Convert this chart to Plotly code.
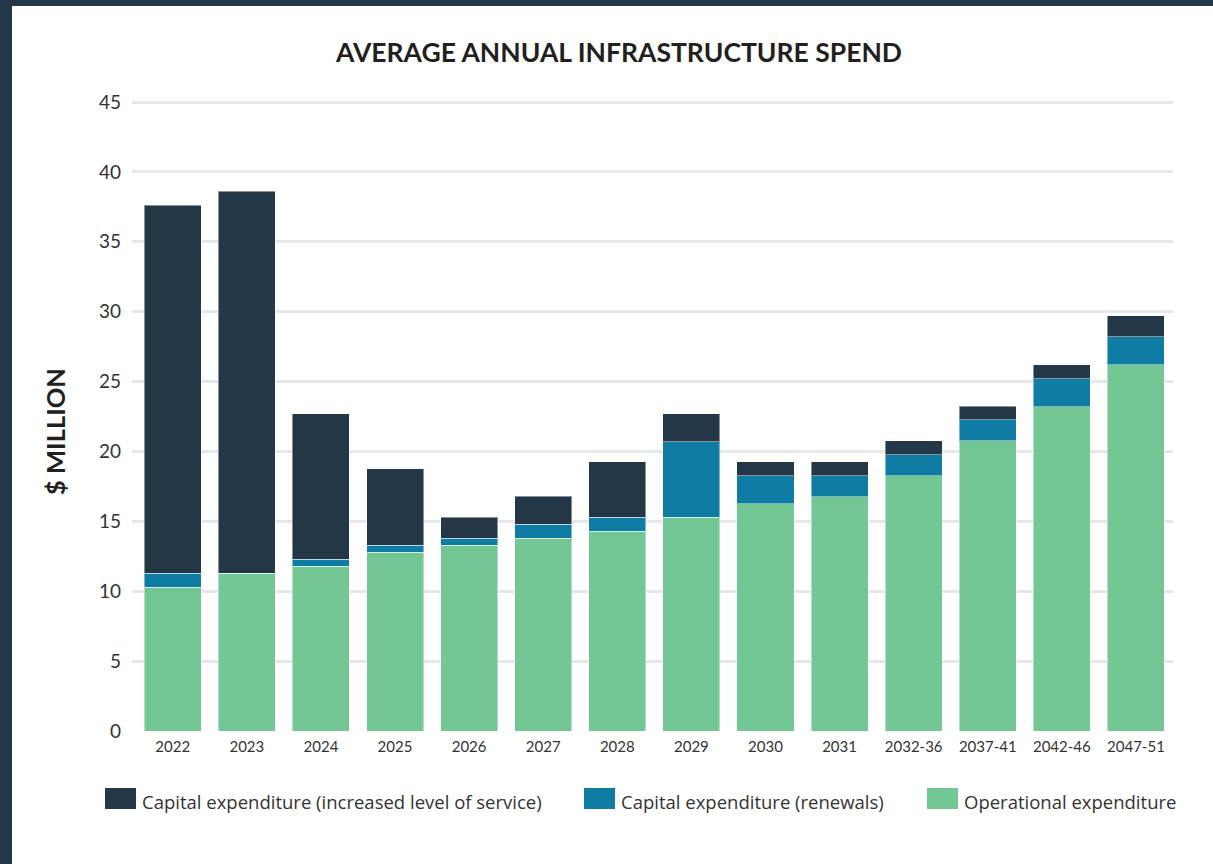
import plotly.graph_objects as go

# Periods on the category axis
periods = ["2022", "2023", "2024", "2025", "2026", "2027", "2028", "2029",
           "2030", "2031", "2032-36", "2037-41", "2042-46", "2047-51"]

# Average annual spend, $ million (stacked bottom to top)
operational = [10.3, 11.3, 11.8, 12.8, 13.3, 13.8, 14.3, 15.3,
               16.25, 16.75, 18.25, 20.75, 23.2, 26.2]
capex_renewals = [1.0, 0.0, 0.5, 0.5, 0.5, 1.0, 1.0, 5.4,
                  2.0, 1.5, 1.5, 1.5, 2.0, 2.0]
capex_los = [26.3, 27.3, 10.4, 5.45, 1.5, 2.0, 3.95, 2.0,
             1.0, 1.0, 1.0, 1.0, 1.0, 1.5]

y_ticks = [0, 5, 10, 15, 20, 25, 30, 35, 40, 45]

series = [
    ("Operational expenditure", operational, "#72c795"),
    ("Capital expenditure (renewals)", capex_renewals, "#0f7ca3"),
    ("Capital expenditure (increased level of service)", capex_los, "#243746"),
]

FONT = "Lato, 'Open Sans', sans-serif"
LEGEND_FONT = "'Open Sans', Lato, sans-serif"
TEXT = "#231f20"
W, H = 1213, 864
L, R = 132, 1173          # plot area left/right in px
T, B = 100, 731           # plot area top/bottom in px
Y_MAX = 45 * (B - T) / 629  # keeps 45 at y=102 with a little headroom


def px_x(px):
    return (px - L) / (R - L)


def px_y(py):
    return (B - py) / (B - T)


fig = go.Figure()
for name, vals, color in series:
    fig.add_trace(go.Bar(
        x=periods, y=vals, name=name,
        marker=dict(color=color, line=dict(color="rgba(255,255,255,0.45)", width=1)),
        showlegend=False,
    ))

shapes = []
annotations = []

# Dark frame strips on the left and top edges
shapes.append(dict(type="rect", xref="paper", yref="paper",
                   x0=px_x(0), x1=px_x(12), y0=px_y(H), y1=px_y(0),
                   fillcolor="#243746", line=dict(width=0), layer="below"))
shapes.append(dict(type="rect", xref="paper", yref="paper",
                   x0=px_x(0), x1=px_x(W), y0=px_y(6), y1=px_y(0),
                   fillcolor="#243746", line=dict(width=0), layer="below"))

# Legend row: swatch + label for each series
legend_items = [
    (series[2][0], series[2][2], 105),
    (series[1][0], series[1][2], 584),
    (series[0][0], series[0][2], 927),
]
for name, color, x0 in legend_items:
    shapes.append(dict(type="rect", xref="paper", yref="paper",
                       x0=px_x(x0), x1=px_x(x0 + 31), y0=px_y(809), y1=px_y(788),
                       fillcolor=color, line=dict(width=0)))
    annotations.append(dict(xref="paper", yref="paper", x=px_x(x0 + 35), y=px_y(801),
                            xanchor="left", yanchor="middle", showarrow=False,
                            text=name, font=dict(family=LEGEND_FONT, size=18.5, color="#333333")))

# Rotated y-axis title
annotations.append(dict(xref="paper", yref="paper", x=px_x(55), y=px_y(432),
                        xanchor="center", yanchor="middle", showarrow=False,
                        textangle=-90, text="<b>$ MILLION</b>",
                        font=dict(family=FONT, size=25.5, color=TEXT)))

fig.update_layout(
    width=W, height=H,
    barmode="stack", bargap=0.23,
    plot_bgcolor="white", paper_bgcolor="white",
    margin=dict(l=L, r=W - R, t=T, b=H - B, pad=0),
    title=dict(text="<b>AVERAGE ANNUAL INFRASTRUCTURE SPEND</b>",
               x=619 / W, xanchor="center", y=1 - 53 / H, yanchor="middle",
               font=dict(family=FONT, size=26.5, color=TEXT)),
    font=dict(family=FONT, color=TEXT),
    shapes=shapes, annotations=annotations,
    xaxis=dict(range=[-0.55, 13.5], showgrid=False, zeroline=False, showline=False,
               ticklabelstandoff=5,
               tickfont=dict(family=FONT, size=15, color="#333333"), ticks=""),
    yaxis=dict(range=[0, Y_MAX], tickvals=y_ticks, showgrid=True, gridcolor="#e6e7e8",
               gridwidth=3, zeroline=False, showline=False, ticks="",
               ticklabelstandoff=10,
               tickfont=dict(family=FONT, size=19, color="#333333")),
)

fig.write_html("out.html")
